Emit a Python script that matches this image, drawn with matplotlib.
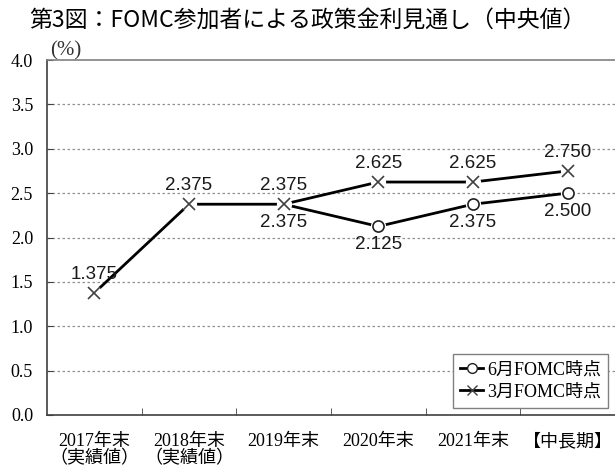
import numpy as np
import matplotlib.pyplot as plt
from matplotlib.lines import Line2D

# categories and values
categories = ["2017年末\n（実績値）", "2018年末\n（実績値）", "2019年末", "2020年末", "2021年末", "【中長期】"]
march = [1.375, 2.375, 2.375, 2.625, 2.625, 2.750]
june = [2.375, 2.125, 2.375, 2.500]   # from 2019年末 onward
june_start = 2

serif = ["Liberation Serif", "Noto Sans CJK JP"]
sans = ["Liberation Sans", "DejaVu Sans"]

fig = plt.figure(figsize=(6.15, 4.71), dpi=100)
ax = fig.add_axes([0.0764, 0.1189, 0.9236, 0.7537])

x = np.arange(len(categories))
xj = x[june_start:]

# lines
ax.plot(x, march, color="black", lw=2, zorder=3)
ax.plot(xj, june, color="black", lw=2, zorder=3)

# white halo so lines stop short of the markers
ax.plot(x, march, ls="none", marker="o", ms=11, mfc="white", mec="none", zorder=4)
ax.plot(xj[1:], june[1:], ls="none", marker="o", ms=11, mfc="white", mec="none", zorder=4)
ax.plot(x, march, ls="none", marker="x", ms=9, mew=1.2, color="#404040", zorder=5)
ax.plot(xj[1:], june[1:], ls="none", marker="o", ms=8, mfc="white", mec="#202020", mew=1.2, zorder=5)

# data labels
lab_kw = dict(ha="center", fontsize=13.5, family=sans, color="#1a1a1a", zorder=6)
for xi, v in zip(x, march):
    ax.annotate(f"{v:.3f}", (xi, v), xytext=(0, 7), textcoords="offset points", va="bottom", **lab_kw)
for xi, v in zip(xj, june):
    ax.annotate(f"{v:.3f}", (xi, v), xytext=(0, -7), textcoords="offset points", va="top", **lab_kw)

# axes styling
ax.set_xlim(-0.5, len(categories) - 0.5)
ax.set_ylim(0, 4.0)
ax.set_yticks(np.arange(0, 4.01, 0.5))
ax.set_yticklabels([f"{v:.1f}" for v in np.arange(0, 4.01, 0.5)], family=serif, fontsize=13)
ax.set_xticks(x)
ax.set_xticklabels(categories, family=serif, fontsize=13, linespacing=1.0)
ax.set_xticks(np.arange(0.5, len(categories) - 1, 1.0), minor=True)
ax.tick_params(axis="x", which="major", length=0, pad=13)
ax.tick_params(axis="x", which="minor", direction="in", length=5, color="#404040")
ax.tick_params(axis="y", direction="in", length=4, color="#404040", pad=10)

for v in np.arange(0.5, 3.51, 0.5):
    ax.axhline(v, color="#909090", lw=0.9, ls=(0, (2, 2)), zorder=1)

ax.spines["right"].set_visible(False)
ax.spines["top"].set_color("#808080")
ax.spines["top"].set_linewidth(1.2)
ax.spines["left"].set_color("#404040")
ax.spines["bottom"].set_color("#404040")
ax.spines["left"].set_linewidth(1.2)
ax.spines["bottom"].set_linewidth(1.2)

ax.text(0.005, 1.0, "(%)", transform=ax.transAxes, family=serif, fontsize=15,
        ha="left", va="bottom", color="#333333")

# legend
handles = [
    Line2D([], [], color="black", lw=2, marker="o", ms=7, mfc="white", mec="#202020"),
    Line2D([], [], color="black", lw=2, marker="x", ms=7, mec="#404040"),
]
leg = ax.legend(handles, ["6月FOMC時点", "3月FOMC時点"], loc="lower right",
                bbox_to_anchor=(0.988, 0.02), borderaxespad=0, prop={"family": serif, "size": 13},
                frameon=True, fancybox=False, edgecolor="#808080", framealpha=1,
                handlelength=1.3, handletextpad=0.2, borderpad=0.4, labelspacing=0.3)
leg.get_frame().set_linewidth(1.0)

fig.text(0.5, 0.955, "第3図：FOMC参加者による政策金利見通し（中央値）",
         family=["Noto Sans CJK JP", "DejaVu Sans"], fontsize=16.5, ha="center", va="center")

fig.savefig("out.png", dpi=100)
